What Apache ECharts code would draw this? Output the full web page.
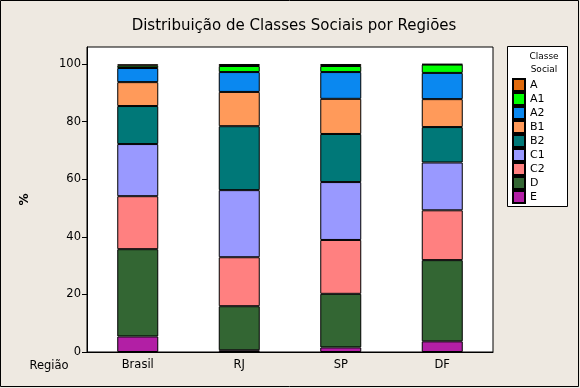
<!DOCTYPE html>
<html>
<head>
<meta charset="utf-8">
<script src="https://cdn.jsdelivr.net/npm/echarts@6/dist/echarts.min.js"></script>
<style>
html,body{margin:0;padding:0;background:#EEE9E1;}
#c{width:580px;height:388px;}
</style>
</head>
<body>
<div id="c"></div>
<script>
var categories = ['Brasil', 'RJ', 'SP', 'DF'];
var classNames = ['E', 'D', 'C2', 'C1', 'B2', 'B1', 'A2', 'A1', 'A'];
var valE  = [5.4, 0.6, 1.6, 3.7];
var valD  = [30.3, 15.3, 18.6, 28.2];
var valC2 = [18.4, 17.0, 18.7, 17.3];
var valC1 = [18.1, 23.3, 20.1, 16.6];
var valB2 = [13.2, 22.2, 16.7, 12.3];
var valB1 = [8.3, 11.9, 12.2, 9.7];
var valA2 = [4.9, 6.9, 9.3, 9.1];
var valA1 = [0.8, 2.1, 2.1, 2.9];
var valA  = [0.5, 0.7, 0.7, 0.2];
var yTicks = [0, 20, 40, 60, 80, 100];

var seriesValues = [valE, valD, valC2, valC1, valB2, valB1, valA2, valA1, valA];
var colors = ['#B21FA5', '#336633', '#FF8080', '#9999FF', '#007878', '#FF9A5A', '#0A88F0', '#00FF00', '#E06A0C'];
var FONT = 'DejaVu Sans';

var series = classNames.map(function (n, i) {
  return {
    name: n,
    type: 'bar',
    stack: 'total',
    barWidth: 41,
    data: seriesValues[i],
    itemStyle: { color: colors[i], borderColor: '#000', borderWidth: 1 },
    emphasis: { disabled: true }
  };
});

var chart = echarts.init(document.getElementById('c'), null, { renderer: 'canvas' });
chart.setOption({
  backgroundColor: '#EEE9E1',
  animation: false,
  title: {
    text: 'Distribuição de Classes Sociais por Regiões',
    left: 289, top: 14, textAlign: 'center',
    textStyle: { fontFamily: FONT, fontSize: 15, fontWeight: 'normal', color: '#000' }
  },
  grid: {
    left: 87, top: 47, right: 87, bottom: 36,
    show: true, backgroundColor: '#fff', borderColor: '#000', borderWidth: 1
  },
  legend: {
    orient: 'vertical',
    left: 512, top: 78,
    itemWidth: 12, itemHeight: 12, itemGap: 0,
    padding: 0,
    icon: 'rect',
    data: ['A', 'A1', 'A2', 'B1', 'B2', 'C1', 'C2', 'D', 'E'],
    textStyle: { fontFamily: FONT, fontSize: 11, color: '#000' },
    selectedMode: false
  },
  xAxis: {
    type: 'category',
    data: categories,
    axisLine: { lineStyle: { color: '#000', width: 1 } },
    axisTick: { alignWithLabel: true, length: 4, lineStyle: { color: '#000' } },
    axisLabel: { fontFamily: FONT, fontSize: 11.5, color: '#000', margin: 7 }
  },
  yAxis: {
    type: 'value',
    min: 0, max: 105.9, interval: 20,
    name: '%',
    nameLocation: 'middle',
    nameGap: 56,
    nameRotate: 90,
    nameTextStyle: { fontFamily: FONT, fontSize: 12, fontWeight: 'bold', color: '#000' },
    axisLine: { show: true, lineStyle: { color: '#000', width: 1 } },
    axisTick: { show: true, length: 5, lineStyle: { color: '#000' }, customValues: yTicks },
    axisLabel: { fontFamily: FONT, fontSize: 11.5, color: '#000', margin: 6, customValues: yTicks },
    splitLine: { show: false }
  },
  graphic: [
    { type: 'rect', shape: { x: 0.5, y: 0.5, width: 578, height: 386 }, style: { fill: 'none', stroke: '#000', lineWidth: 1 }, silent: true },
    { type: 'rect', shape: { x: 507.5, y: 46.5, width: 60, height: 160 }, style: { fill: '#fff', stroke: '#000', lineWidth: 1 }, z: -1, silent: true },
    { type: 'text', style: { text: 'Classe', x: 544, y: 57, fill: '#000', font: '9px "DejaVu Sans"', align: 'center', verticalAlign: 'middle' } },
    { type: 'text', style: { text: 'Social', x: 544, y: 70, fill: '#000', font: '9px "DejaVu Sans"', align: 'center', verticalAlign: 'middle' } },
    { type: 'text', style: { text: 'Região', x: 49, y: 366, fill: '#000', font: '11.5px "DejaVu Sans"', align: 'center', verticalAlign: 'middle' } }
  ],
  series: series
});
</script>
</body>
</html>
